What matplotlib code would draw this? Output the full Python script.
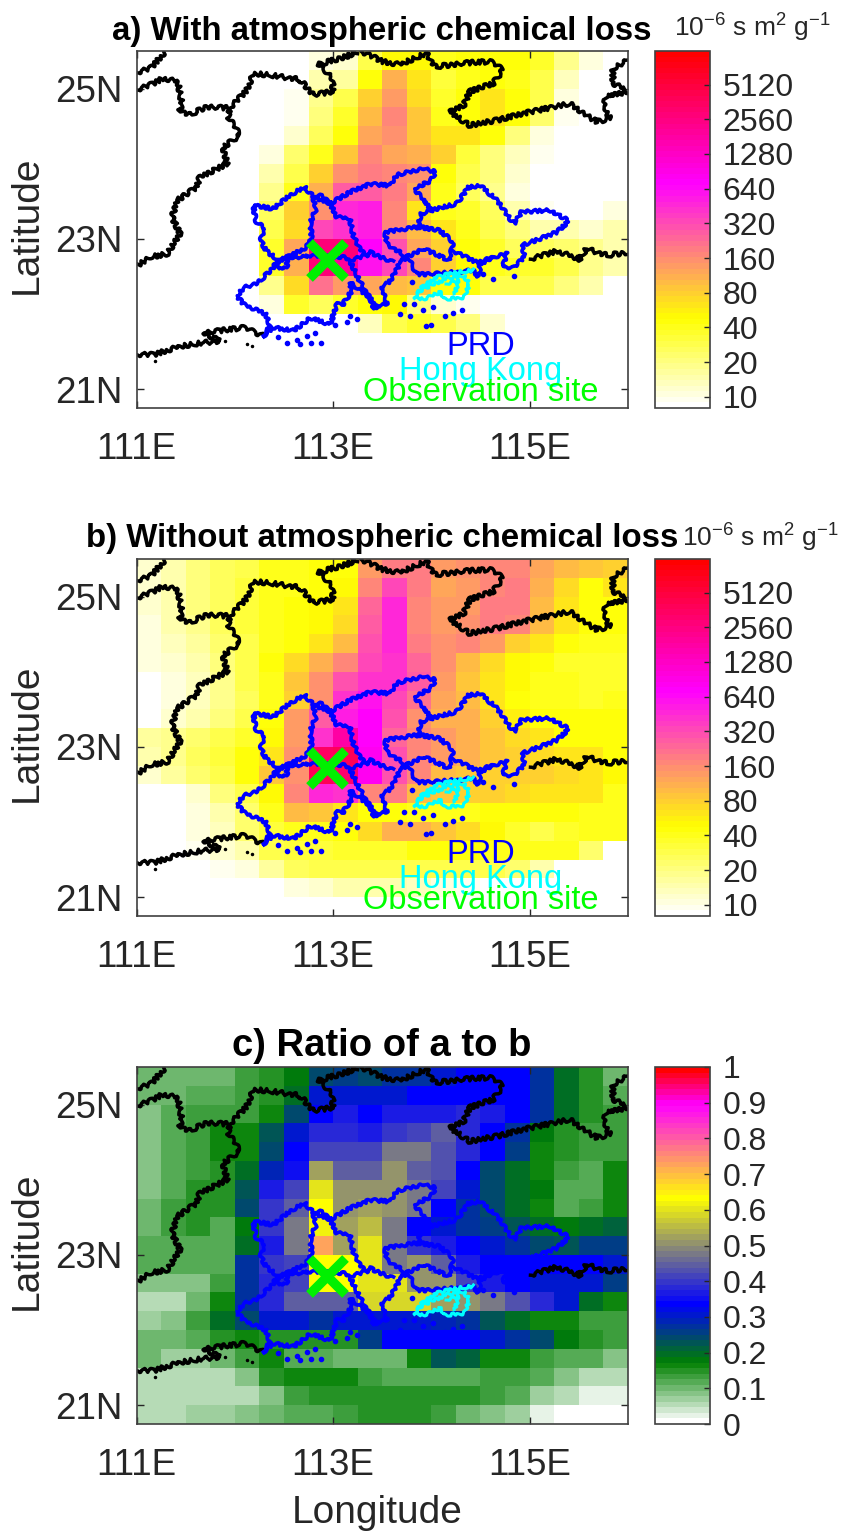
import numpy as np
from matplotlib import pyplot as plt
from matplotlib.colors import LinearSegmentedColormap, LogNorm, Normalize

plt.rcParams['font.family'] = ['Liberation Sans', 'DejaVu Sans']
plt.rcParams['mathtext.default'] = 'regular'

# grid edges
lon_edges = np.arange(111, 116.01, 0.25)
lat_edges = np.arange(25.5, 20.74, -0.25)

# a) with chemical loss, top row first, 0 means below the colour range
with_loss = [
 [0,0,0,0,0,0,0,10,12,30,50,50,40,46,46,46,35,18,10,0],
 [0,0,0,0,0,0,0,14,16,46,110,62,32,40,45,42,30,13,8,0],
 [0,0,0,0,0,0,9,18,30,80,140,70,36,45,62,46,30,11,0,0],
 [0,0,0,0,0,0,9,20,35,100,170,85,42,46,65,46,22,9,0,0],
 [0,0,0,0,0,0,12,25,46,125,150,90,60,60,46,20,11,0,0,0],
 [0,0,0,0,0,10,22,40,90,170,120,110,80,32,20,13,9,0,0,0],
 [0,0,0,0,0,14,30,80,160,190,180,150,46,30,20,12,0,0,0,0],
 [0,0,0,0,0,18,42,110,260,280,200,120,40,25,18,10,0,0,0,0],
 [0,0,0,0,0,25,80,160,450,500,180,60,42,35,25,15,9,0,0,10],
 [0,0,0,0,0,30,70,330,400,500,180,100,60,40,30,20,14,14,12,14],
 [0,0,0,0,0,35,120,2800,2800,700,300,120,80,45,35,25,25,22,18,14],
 [0,0,0,0,0,35,110,2800,2000,600,350,170,80,50,40,35,35,30,18,14],
 [0,0,0,0,0,18,70,210,140,120,100,90,46,46,30,30,28,20,14,0],
 [0,0,0,0,0,10,36,25,35,46,50,20,12,9,0,0,0,0,0,0],
 [0,0,0,0,0,0,0,0,0,13,30,36,30,20,12,0,0,0,0,0],
 [0]*20,
 [0]*20,
 [0]*20,
 [0]*20,
]

# b) without chemical loss
without_loss = [
 [12,14,20,25,30,40,42,45,46,130,190,190,130,150,170,170,120,100,90,80],
 [12,14,20,25,32,40,42,45,50,170,350,200,120,130,170,190,110,70,46,60],
 [12,14,20,25,32,42,45,48,60,250,450,180,130,140,200,190,100,60,45,46],
 [11,14,18,25,32,42,45,50,70,270,450,180,130,160,190,180,100,60,46,46],
 [11,13,16,22,30,42,46,65,100,300,450,200,150,170,140,80,60,46,40,40],
 [10,12,14,20,30,46,70,110,170,350,400,250,160,100,70,50,46,38,36,36],
 [0,11,13,18,28,42,90,160,300,420,400,260,130,90,60,50,42,40,38,38],
 [0,11,13,18,25,40,80,150,420,600,350,220,120,100,60,46,40,40,36,40],
 [0,12,14,20,30,46,140,260,500,700,300,150,110,110,80,55,46,45,46,46],
 [16,18,22,30,36,50,130,400,1800,700,250,170,140,110,90,70,60,46,46,46],
 [14,18,25,33,46,60,160,3500,4000,800,300,180,130,110,90,80,70,65,60,46],
 [12,16,22,30,46,90,160,3800,3000,800,300,170,100,90,80,80,75,70,60,50],
 [0,0,12,20,30,50,170,450,420,170,200,100,85,80,80,70,65,60,60,40],
 [0,0,11,15,24,42,100,90,65,46,46,42,40,40,46,46,46,46,40,40],
 [0,0,10,13,22,32,42,42,46,70,110,110,90,70,50,36,30,35,40,40],
 [0,0,9,12,15,28,32,32,36,38,35,45,45,45,42,40,40,40,22,0],
 [0,0,0,9,10,16,26,30,30,30,30,30,30,30,28,22,14,0,0,0],
 [0,0,0,0,0,0,11,12,14,15,14,13,10,9,0,0,0,0,0,0],
 [0]*20,
]

# c) ratio of a to b
ratio = [
 [.10,.10,.10,.10,.13,.15,.175,.24,.26,.24,.27,.27,.30,.33,.33,.33,.27,.20,.15,.10],
 [.10,.10,.12,.12,.13,.15,.20,.30,.30,.30,.31,.33,.33,.33,.34,.33,.27,.20,.15,.12],
 [.09,.12,.13,.13,.14,.17,.24,.33,.36,.33,.36,.36,.37,.38,.37,.34,.27,.20,.15,.13],
 [.09,.12,.14,.16,.17,.22,.31,.38,.39,.37,.40,.42,.44,.38,.34,.28,.18,.15,.14,.13],
 [.08,.12,.14,.16,.17,.24,.33,.41,.41,.41,.47,.47,.43,.38,.33,.25,.17,.15,.14,.14],
 [.08,.12,.14,.15,.20,.29,.35,.53,.45,.45,.50,.45,.43,.33,.24,.20,.17,.14,.12,.165],
 [.09,.12,.15,.15,.22,.37,.42,.60,.50,.50,.50,.47,.42,.30,.24,.20,.18,.12,.11,.17],
 [.10,.13,.15,.15,.24,.40,.45,.64,.50,.52,.50,.47,.34,.28,.24,.20,.17,.12,.14,.17],
 [.10,.13,.15,.12,.18,.40,.47,.62,.53,.55,.48,.33,.30,.27,.25,.22,.20,.18,.20,.21],
 [.11,.12,.12,.12,.20,.37,.47,.72,.53,.60,.48,.40,.37,.33,.30,.27,.24,.22,.25,.25],
 [.11,.12,.12,.12,.27,.40,.42,.64,.64,.60,.48,.50,.44,.37,.33,.33,.33,.33,.33,.30],
 [.09,.08,.08,.13,.27,.38,.42,.63,.63,.60,.60,.50,.50,.42,.37,.33,.31,.31,.31,.26],
 [.05,.05,.10,.16,.27,.39,.44,.44,.44,.58,.58,.58,.52,.50,.47,.43,.38,.30,.20,.16],
 [.07,.08,.13,.19,.24,.31,.30,.27,.31,.31,.31,.31,.29,.27,.22,.20,.17,.16,.13,.13],
 [.10,.10,.12,.15,.17,.15,.15,.15,.15,.26,.33,.34,.34,.33,.30,.27,.24,.18,.15,.13],
 [.10,.07,.07,.10,.13,.16,.12,.12,.10,.10,.10,.17,.22,.21,.17,.16,.13,.12,.12,.08],
 [.05,.05,.05,.05,.08,.15,.16,.16,.16,.14,.12,.12,.12,.12,.14,.14,.12,.09,.06,.05],
 [.05,.05,.05,.05,.06,.09,.13,.15,.15,.15,.15,.15,.15,.15,.13,.12,.07,.05,.03,.03],
 [.05,.05,.07,.07,.09,.10,.12,.12,.13,.15,.15,.15,.13,.10,.09,.07,.03,.015,.015,.015],
]

# black boundaries and coast, (lon, lat)
black_lines = [
 [(111.00,25.21),(111.14,25.27),(111.29,25.49)],
 [(111.00,24.98),(111.14,25.05),(111.27,25.14),(111.42,25.09),(111.46,24.80),(111.44,24.71),(111.54,24.65),
  (111.71,24.76),(111.95,24.74),(111.93,24.63),(112.05,24.38),(111.88,24.22),(111.92,24.00),(111.64,23.82),
  (111.61,23.69),(111.41,23.51),(111.36,23.29),(111.44,23.07),(111.31,22.80),(111.14,22.76),(111.00,22.64)],
 [(111.95,24.74),(112.12,24.98),(112.19,25.20),(112.36,25.18),(112.66,25.12),(112.80,24.92),(113.00,24.96),
  (112.99,25.16),(112.85,25.32),(113.14,25.43),(113.24,25.49)],
 [(113.29,25.49),(113.51,25.36),(113.68,25.32),(113.95,25.47),(114.04,25.29),(114.33,25.34),(114.60,25.36),
  (114.73,25.25),(114.63,25.07),(114.39,24.96),(114.33,24.78),(114.19,24.69),(114.39,24.51),(114.67,24.58),
  (115.01,24.69),(115.41,24.80),(115.68,24.56),(115.82,24.60),(115.75,24.78),(115.79,24.89),(115.99,24.96)],
 [(116.00,25.38),(115.85,25.27),(115.85,25.07),(115.99,24.98)],
 [(111.00,21.46),(111.17,21.46),(111.44,21.57),(111.68,21.62),(111.85,21.64),(111.68,21.75),(111.85,21.78),
  (112.09,21.82),(112.29,21.71)],
 [(115.01,22.73),(115.28,22.84),(115.51,22.73),(115.58,22.87),(115.79,22.78),(115.99,22.82)],
]
black_dots = [(112.12,21.60),(112.17,21.57),(111.19,21.38),(111.80,21.66),(111.90,21.64)]

# PRD outline and city borders
prd_lines = [
 [(112.29,21.71),(112.36,21.84),(112.31,22.00),(112.09,22.13),(112.02,22.24),(112.09,22.35),(112.24,22.42),
  (112.39,22.62),(112.43,22.73),(112.32,22.84),(112.26,22.98),(112.31,23.13),(112.21,23.24),(112.19,23.45),
  (112.39,23.40),(112.56,23.58),(112.71,23.69),(112.80,23.56),(112.97,23.47),(113.17,23.62),(113.38,23.73),
  (113.58,23.71),(113.65,23.85),(113.92,23.94),(114.04,23.89),(114.00,23.78),(113.83,23.67),(113.92,23.51),
  (114.00,23.38),(114.26,23.47),(114.38,23.69),(114.50,23.71),(114.67,23.51),(114.84,23.20),(114.92,23.36),
  (115.21,23.38),(115.40,23.24),(115.28,23.09),(114.92,22.91),(114.95,22.76),(114.84,22.62),(114.73,22.62),
  (114.77,22.82),(114.63,22.75),(114.50,22.67),(114.48,22.49),(114.43,22.58),(113.99,22.53),(113.85,22.53),
  (113.77,22.75),(113.68,22.71),(113.66,22.62),(113.58,22.44),(113.49,22.35),(113.55,22.13),(113.41,22.09),
  (113.38,22.22),(113.17,22.42),(113.19,22.31),(113.10,22.13),(113.04,22.13),(112.97,21.86),(112.77,21.95),
  (112.60,21.78),(112.39,21.82),(112.29,21.71)],
 [(112.41,22.67),(112.73,22.89),(112.78,23.02),(112.77,23.22),(112.82,23.38),(112.80,23.56)],
 [(112.80,23.56),(112.87,23.58),(112.97,23.47),(113.04,23.29),(113.17,23.27),(113.21,23.02),(113.31,22.80),
  (113.38,22.82),(113.61,22.69)],
 [(112.73,22.76),(112.53,22.76),(112.43,22.69),(112.44,22.60),(112.53,22.62),(112.53,22.76)],
 [(112.73,22.78),(113.10,22.76),(113.17,22.71),(113.27,22.44),(113.41,22.13)],
 [(113.17,22.71),(113.38,22.80)],
 [(114.00,23.38),(113.89,23.33),(113.87,23.16),(113.53,23.09),(113.55,22.93),(113.75,22.76),(113.92,22.87),
  (114.19,22.71),(114.22,22.96),(114.09,23.11),(113.87,23.16)],
 [(114.22,22.84),(114.46,22.69),(114.63,22.75)],
]
prd_islands = [(112.53,21.62),(112.63,21.66),(112.73,21.71),(112.82,21.75),(112.78,21.62),(112.88,21.62),(112.66,21.60),
 (112.44,21.69),(113.02,21.86),(113.14,21.89),(113.24,21.93),(113.17,21.98),(113.44,22.09),(113.72,22.13),(113.82,22.13),
 (113.68,22.00),(113.78,21.98),(113.92,22.06),(114.02,22.09),(114.14,21.98),(114.22,22.02),(114.31,22.06),(114.00,21.86),
 (113.95,21.84),(113.80,22.42),(114.63,22.47),(114.53,22.53),(114.84,22.51)]

# Hong Kong
hk_lines = [
 [(113.83,22.22),(113.92,22.38),(114.09,22.51),(114.33,22.57),(114.43,22.58)],
 [(113.87,22.29),(113.99,22.38),(114.16,22.47),(114.33,22.51),(114.39,22.40),(114.33,22.22),(114.13,22.20),
  (114.09,22.29),(113.92,22.20),(113.83,22.22)],
 [(114.15,22.40),(114.28,22.44),(114.24,22.27)],
]

site_lon, site_lat = 112.935, 22.72

log_ticks = [10, 20, 40, 80, 160, 320, 640, 1280, 2560, 5120]
ratio_ticks = [0, 0.1, 0.2, 0.3, 0.4, 0.5, 0.6, 0.7, 0.8, 0.9, 1]
ratio_labels = ['0', '0.1', '0.2', '0.3', '0.4', '0.5', '0.6', '0.7', '0.8', '0.9', '1']

titles = ['a) With atmospheric chemical loss', 'b) Without atmospheric chemical loss', 'c) Ratio of a to b']
title_pads = [8, 9, 8]
title_sizes = [23.8, 23.8, 27.5]

cmap_log = LinearSegmentedColormap.from_list('loss', [(0, 'white'), (0.247, 'yellow'), (0.63, 'magenta'), (1, 'red')], N=64)
cmap_ratio = LinearSegmentedColormap.from_list('ratio', [(0, 'white'), (0.167, '#008000'), (0.333, 'blue'), (0.635, 'yellow'),
                                                        (0.9, 'magenta'), (1, 'red')], N=64)

W, H = 842, 1531
fig = plt.figure(figsize=(W/100, H/100), dpi=100)
dark = '#262626'
tops = [51, 559, 1067]
panel_h = 357


def draw_map(ax):
    for seg in black_lines:
        s = np.array(seg)
        l, = ax.plot(s[:,0], s[:,1], c='k', lw=2.5, solid_joinstyle='round')
        l.set_sketch_params(2.2, 9, 4)
    d = np.array(black_dots)
    ax.plot(d[:,0], d[:,1], 'k.', ms=3)
    for seg in prd_lines:
        s = np.array(seg)
        l, = ax.plot(s[:,0], s[:,1], c='#0000ff', lw=2.6, solid_joinstyle='round')
        l.set_sketch_params(1.6, 9, 4)
    i = np.array(prd_islands)
    ax.plot(i[:,0], i[:,1], ls='none', marker='o', c='#0000ff', ms=3)
    for seg in hk_lines:
        s = np.array(seg)
        l, = ax.plot(s[:,0], s[:,1], c='cyan', lw=2.2)
        l.set_sketch_params(1.5, 8, 4)
    ax.plot(site_lon, site_lat, 'x', c='#00f000', ms=26, mew=6.8)


for n, (vals, title) in enumerate(zip([with_loss, without_loss, ratio], titles)):
    top = tops[n]
    ax = fig.add_axes([136.7/W, 1-(top+panel_h)/H, 491/W, panel_h/H])
    cax = fig.add_axes([654.7/W, 1-(top+panel_h)/H, 55.3/W, panel_h/H])
    vals = np.array(vals, dtype=float)
    if n < 2:
        norm = LogNorm(8, 10000)
        m = ax.pcolormesh(lon_edges, lat_edges, np.clip(vals, 8, 10000), cmap=cmap_log, norm=norm)
    else:
        m = ax.pcolormesh(lon_edges, lat_edges, vals, cmap=cmap_ratio, norm=Normalize(0, 1))
    draw_map(ax)
    ax.set_xlim(111, 116)
    ax.set_ylim(20.75, 25.5)
    ax.set_xticks([111, 113, 115])
    ax.set_xticklabels(['111E', '113E', '115E'])
    ax.set_yticks([21, 23, 25])
    ax.set_yticklabels(['21N', '23N', '25N'])
    ax.tick_params(direction='in', top=True, right=True, length=5, width=1, color=dark, labelcolor=dark, labelsize=26.5)
    ax.tick_params(axis='x', pad=17)
    ax.tick_params(axis='y', pad=10)
    for sp in ax.spines.values():
        sp.set_color('#404040')
        sp.set_linewidth(1.2)
    ax.set_title(title, fontsize=title_sizes[n], fontweight='bold', pad=title_pads[n], color='k')
    ax.set_ylabel('Latitude', fontsize=28, color=dark)
    ax.yaxis.set_label_coords(-0.187, 0.513)
    if n < 2:
        ax.text(114.5, 21.57, 'PRD', c='#0000ff', fontsize=23.5, ha='center', va='center')
        ax.text(114.5, 21.23, 'Hong Kong', c='cyan', fontsize=23.5, ha='center', va='center')
        ax.text(114.5, 20.95, 'Observation site', c='#00ff00', fontsize=23.5, ha='center', va='center')

    cb = fig.colorbar(m, cax=cax)
    if n < 2:
        cb.set_ticks(log_ticks)
        cb.set_ticklabels([str(t) for t in log_ticks])
        cb.ax.minorticks_off()
    else:
        cb.set_ticks(ratio_ticks)
        cb.set_ticklabels(ratio_labels)
    cb.ax.tick_params(direction='in', length=4, width=1, color=dark, labelcolor=dark, labelsize=23, pad=9)
    cb.outline.set_edgecolor('#404040')
    cb.outline.set_linewidth(1.2)

ax.set_xlabel('Longitude', fontsize=28, color=dark)
ax.xaxis.set_label_coords(0.49, -0.198)
fig.text(752/W, 1-28/H, '10$^{-6}$ s m$^{2}$ g$^{-1}$', fontsize=19, color=dark, ha='center', va='center')
fig.text(760/W, 1-538/H, '10$^{-6}$ s m$^{2}$ g$^{-1}$', fontsize=19, color=dark, ha='center', va='center')

plt.savefig('out.png', dpi=100)
